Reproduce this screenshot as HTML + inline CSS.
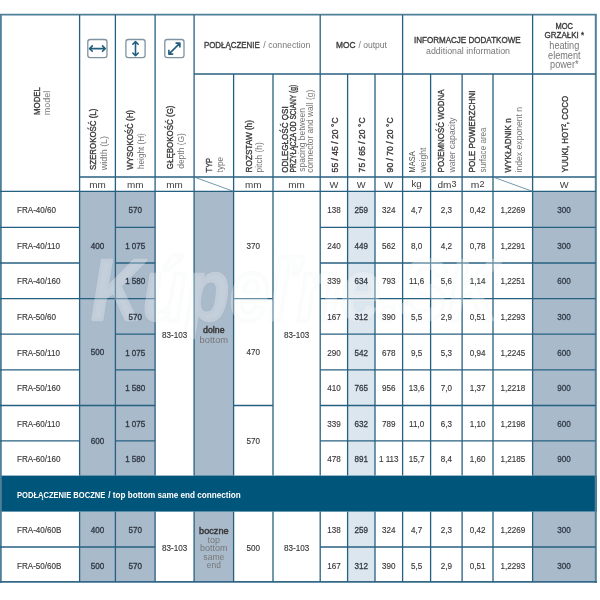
<!DOCTYPE html>
<html lang="pl">
<head>
<meta charset="utf-8">
<title>FRA - dane techniczne</title>
<style>
html,body{margin:0;padding:0;background:#fff;}
body{width:600px;height:600px;overflow:hidden;}
svg{display:block;font-family:"Liberation Sans",sans-serif;}
</style>
</head>
<body>
<svg width="600" height="600" viewBox="0 0 600 600">
<defs><filter id="soft" x="-5%" y="-5%" width="110%" height="110%"><feGaussianBlur stdDeviation="0.45"/></filter></defs>
<g filter="url(#soft)">
<rect x="-20" y="-20" width="640" height="640" fill="#ffffff"/>
<rect x="79.6" y="191.4" width="75.5" height="284.6" fill="#a9bacb"/>
<rect x="194.1" y="191.4" width="39.5" height="284.6" fill="#a9bacb"/>
<rect x="347.6" y="191.4" width="27.4" height="284.6" fill="#dce6ee"/>
<rect x="532.6" y="191.4" width="63" height="284.6" fill="#a9bacb"/>
<rect x="79.6" y="511.6" width="75.5" height="70.4" fill="#a9bacb"/>
<rect x="194.1" y="511.6" width="39.5" height="70.4" fill="#a9bacb"/>
<rect x="347.6" y="511.6" width="27.4" height="70.4" fill="#dce6ee"/>
<rect x="532.6" y="511.6" width="63" height="70.4" fill="#a9bacb"/>
<rect x="0" y="475.6" width="596.8" height="36" fill="#05567a"/>
<line x1="0" y1="14.7" x2="596.8" y2="14.7" stroke="#4f7f99" stroke-width="1.8"/>
<line x1="0.9" y1="14.7" x2="0.9" y2="583" stroke="#4f7f99" stroke-width="1.8"/>
<line x1="595.8" y1="14.7" x2="595.8" y2="583" stroke="#4f7f99" stroke-width="2"/>
<line x1="0" y1="581.9" x2="596.8" y2="581.9" stroke="#34698a" stroke-width="1.6"/>
<line x1="79.6" y1="14.7" x2="79.6" y2="475.6" stroke="#276180" stroke-width="1.3"/>
<line x1="115.4" y1="14.7" x2="115.4" y2="475.6" stroke="#276180" stroke-width="1.3"/>
<line x1="155.1" y1="14.7" x2="155.1" y2="475.6" stroke="#276180" stroke-width="1.3"/>
<line x1="194.1" y1="14.7" x2="194.1" y2="475.6" stroke="#276180" stroke-width="1.3"/>
<line x1="320.2" y1="14.7" x2="320.2" y2="475.6" stroke="#276180" stroke-width="1.3"/>
<line x1="402.6" y1="14.7" x2="402.6" y2="475.6" stroke="#276180" stroke-width="1.3"/>
<line x1="532.6" y1="14.7" x2="532.6" y2="475.6" stroke="#276180" stroke-width="1.3"/>
<line x1="233.6" y1="74" x2="233.6" y2="475.6" stroke="#276180" stroke-width="1.3"/>
<line x1="273" y1="74" x2="273" y2="475.6" stroke="#276180" stroke-width="1.3"/>
<line x1="347.6" y1="74" x2="347.6" y2="475.6" stroke="#276180" stroke-width="1.3"/>
<line x1="375" y1="74" x2="375" y2="475.6" stroke="#276180" stroke-width="1.3"/>
<line x1="430.6" y1="74" x2="430.6" y2="475.6" stroke="#276180" stroke-width="1.3"/>
<line x1="462.1" y1="74" x2="462.1" y2="475.6" stroke="#276180" stroke-width="1.3"/>
<line x1="493" y1="74" x2="493" y2="475.6" stroke="#276180" stroke-width="1.3"/>
<line x1="194.1" y1="74" x2="595.6" y2="74" stroke="#276180" stroke-width="1.3"/>
<line x1="79.6" y1="177" x2="595.6" y2="177" stroke="#276180" stroke-width="1.3"/>
<line x1="0" y1="191.4" x2="596" y2="191.4" stroke="#276180" stroke-width="1.3"/>
<line x1="194.1" y1="177" x2="233.6" y2="191.4" stroke="#4d7f99" stroke-width="0.8"/>
<line x1="493" y1="177" x2="532.6" y2="191.4" stroke="#4d7f99" stroke-width="0.8"/>
<line x1="0" y1="227.3" x2="79.6" y2="227.3" stroke="#276180" stroke-width="1.3"/>
<line x1="115.4" y1="227.3" x2="155.1" y2="227.3" stroke="#276180" stroke-width="1.3"/>
<line x1="320.2" y1="227.3" x2="595.6" y2="227.3" stroke="#276180" stroke-width="1.3"/>
<line x1="0" y1="263" x2="79.6" y2="263" stroke="#276180" stroke-width="1.3"/>
<line x1="115.4" y1="263" x2="155.1" y2="263" stroke="#276180" stroke-width="1.3"/>
<line x1="320.2" y1="263" x2="595.6" y2="263" stroke="#276180" stroke-width="1.3"/>
<line x1="0" y1="298.6" x2="79.6" y2="298.6" stroke="#276180" stroke-width="1.3"/>
<line x1="115.4" y1="298.6" x2="155.1" y2="298.6" stroke="#276180" stroke-width="1.3"/>
<line x1="320.2" y1="298.6" x2="595.6" y2="298.6" stroke="#276180" stroke-width="1.3"/>
<line x1="79.6" y1="298.6" x2="115.4" y2="298.6" stroke="#276180" stroke-width="1.3"/>
<line x1="233.6" y1="298.6" x2="273" y2="298.6" stroke="#276180" stroke-width="1.3"/>
<line x1="0" y1="334.2" x2="79.6" y2="334.2" stroke="#276180" stroke-width="1.3"/>
<line x1="115.4" y1="334.2" x2="155.1" y2="334.2" stroke="#276180" stroke-width="1.3"/>
<line x1="320.2" y1="334.2" x2="595.6" y2="334.2" stroke="#276180" stroke-width="1.3"/>
<line x1="0" y1="369.9" x2="79.6" y2="369.9" stroke="#276180" stroke-width="1.3"/>
<line x1="115.4" y1="369.9" x2="155.1" y2="369.9" stroke="#276180" stroke-width="1.3"/>
<line x1="320.2" y1="369.9" x2="595.6" y2="369.9" stroke="#276180" stroke-width="1.3"/>
<line x1="0" y1="405.5" x2="79.6" y2="405.5" stroke="#276180" stroke-width="1.3"/>
<line x1="115.4" y1="405.5" x2="155.1" y2="405.5" stroke="#276180" stroke-width="1.3"/>
<line x1="320.2" y1="405.5" x2="595.6" y2="405.5" stroke="#276180" stroke-width="1.3"/>
<line x1="79.6" y1="405.5" x2="115.4" y2="405.5" stroke="#276180" stroke-width="1.3"/>
<line x1="233.6" y1="405.5" x2="273" y2="405.5" stroke="#276180" stroke-width="1.3"/>
<line x1="0" y1="440.8" x2="79.6" y2="440.8" stroke="#276180" stroke-width="1.3"/>
<line x1="115.4" y1="440.8" x2="155.1" y2="440.8" stroke="#276180" stroke-width="1.3"/>
<line x1="320.2" y1="440.8" x2="595.6" y2="440.8" stroke="#276180" stroke-width="1.3"/>
<line x1="79.6" y1="511.6" x2="79.6" y2="582" stroke="#276180" stroke-width="1.3"/>
<line x1="115.4" y1="511.6" x2="115.4" y2="582" stroke="#276180" stroke-width="1.3"/>
<line x1="155.1" y1="511.6" x2="155.1" y2="582" stroke="#276180" stroke-width="1.3"/>
<line x1="194.1" y1="511.6" x2="194.1" y2="582" stroke="#276180" stroke-width="1.3"/>
<line x1="233.6" y1="511.6" x2="233.6" y2="582" stroke="#276180" stroke-width="1.3"/>
<line x1="273" y1="511.6" x2="273" y2="582" stroke="#276180" stroke-width="1.3"/>
<line x1="320.2" y1="511.6" x2="320.2" y2="582" stroke="#276180" stroke-width="1.3"/>
<line x1="347.6" y1="511.6" x2="347.6" y2="582" stroke="#276180" stroke-width="1.3"/>
<line x1="375" y1="511.6" x2="375" y2="582" stroke="#276180" stroke-width="1.3"/>
<line x1="402.6" y1="511.6" x2="402.6" y2="582" stroke="#276180" stroke-width="1.3"/>
<line x1="430.6" y1="511.6" x2="430.6" y2="582" stroke="#276180" stroke-width="1.3"/>
<line x1="462.1" y1="511.6" x2="462.1" y2="582" stroke="#276180" stroke-width="1.3"/>
<line x1="493" y1="511.6" x2="493" y2="582" stroke="#276180" stroke-width="1.3"/>
<line x1="532.6" y1="511.6" x2="532.6" y2="582" stroke="#276180" stroke-width="1.3"/>
<line x1="0" y1="547" x2="155.1" y2="547" stroke="#276180" stroke-width="1.3"/>
<line x1="320.2" y1="547" x2="595.6" y2="547" stroke="#276180" stroke-width="1.3"/>
<text x="91" y="320" font-size="87" font-style="italic" font-weight="bold" textLength="408" lengthAdjust="spacingAndGlyphs" fill="none" stroke="#556677" stroke-opacity="0.028" stroke-width="4.5" stroke-linejoin="round">Kúpeľne.SK</text>
<g opacity="0.3"><text x="91" y="320" font-size="87" font-style="italic" font-weight="bold" textLength="408" lengthAdjust="spacingAndGlyphs" fill="#ffffff" stroke="#ffffff" stroke-width="2.4" stroke-linejoin="round">Kúpeľne.SK</text></g>
<text transform="translate(39.612 101) rotate(-90)" text-anchor="middle" font-size="9.2" fill="#3a3a3a" stroke="#3a3a3a" stroke-width="0.36" textLength="28" lengthAdjust="spacingAndGlyphs">MODEL</text>
<text transform="translate(50.312 103) rotate(-90)" text-anchor="middle" font-size="9.2" fill="#777777" textLength="24.5" lengthAdjust="spacingAndGlyphs">model</text>
<rect x="87.8" y="39.5" width="19.2" height="18.2" rx="2.4" fill="#fff" stroke="#7f93a1" stroke-width="1.3"/>
<path d="M89.6 48.6H105.2M92.3 45.9L89.6 48.6L92.3 51.3M102.5 45.9L105.2 48.6L102.5 51.3" fill="none" stroke="#245f7c" stroke-width="1.6" stroke-linejoin="round" stroke-linecap="round"/>
<rect x="125.9" y="39.5" width="19.2" height="18.2" rx="2.4" fill="#fff" stroke="#7f93a1" stroke-width="1.3"/>
<path d="M135.5 41.5V55.7M132.8 44.2L135.5 41.5L138.2 44.2M132.8 53L135.5 55.7L138.2 53" fill="none" stroke="#245f7c" stroke-width="1.6" stroke-linejoin="round" stroke-linecap="round"/>
<rect x="164.8" y="39.5" width="19.2" height="18.2" rx="2.4" fill="#fff" stroke="#7f93a1" stroke-width="1.3"/>
<path d="M168.9 54.1L179.9 43.1M176.1 43.1H179.9V46.9M168.9 50.3V54.1H172.7" fill="none" stroke="#245f7c" stroke-width="1.6" stroke-linejoin="round" stroke-linecap="round"/>
<text transform="translate(95.7 170.1) rotate(-90)" font-size="9.2" fill="#3a3a3a" stroke="#3a3a3a" stroke-width="0.36" textLength="61.5" lengthAdjust="spacingAndGlyphs">SZEROKOŚĆ (L)</text>
<text transform="translate(107 170.3) rotate(-90)" font-size="9.2" fill="#747474" textLength="34.4" lengthAdjust="spacingAndGlyphs">width (L)</text>
<text transform="translate(133.3 169.8) rotate(-90)" font-size="9.2" fill="#3a3a3a" stroke="#3a3a3a" stroke-width="0.36" textLength="59.8" lengthAdjust="spacingAndGlyphs">WYSOKOŚĆ (H)</text>
<text transform="translate(143.7 168.9) rotate(-90)" font-size="9.2" fill="#747474" textLength="35.6" lengthAdjust="spacingAndGlyphs">height (H)</text>
<text transform="translate(173 169.2) rotate(-90)" font-size="9.2" fill="#3a3a3a" stroke="#3a3a3a" stroke-width="0.36" textLength="63.7" lengthAdjust="spacingAndGlyphs">GŁĘBOKOŚĆ (G)</text>
<text transform="translate(183.8 168.8) rotate(-90)" font-size="9.2" fill="#747474" textLength="35.7" lengthAdjust="spacingAndGlyphs">depth (G)</text>
<text x="97.5" y="188.056" text-anchor="middle" font-size="9.6" fill="#3a3a3a" textLength="16.5" lengthAdjust="spacingAndGlyphs">mm</text>
<text x="135.25" y="188.056" text-anchor="middle" font-size="9.6" fill="#3a3a3a" textLength="16.5" lengthAdjust="spacingAndGlyphs">mm</text>
<text x="174.6" y="188.056" text-anchor="middle" font-size="9.6" fill="#3a3a3a" textLength="16.5" lengthAdjust="spacingAndGlyphs">mm</text>
<text x="253.3" y="188.056" text-anchor="middle" font-size="9.6" fill="#3a3a3a" textLength="16.5" lengthAdjust="spacingAndGlyphs">mm</text>
<text x="296.6" y="188.056" text-anchor="middle" font-size="9.6" fill="#3a3a3a" textLength="16.5" lengthAdjust="spacingAndGlyphs">mm</text>
<text x="333.9" y="187.684" text-anchor="middle" font-size="9.4" fill="#3a3a3a">W</text>
<text x="361.3" y="187.684" text-anchor="middle" font-size="9.4" fill="#3a3a3a">W</text>
<text x="388.8" y="187.684" text-anchor="middle" font-size="9.4" fill="#3a3a3a">W</text>
<text x="564.1" y="187.684" text-anchor="middle" font-size="9.4" fill="#3a3a3a">W</text>
<text x="416.6" y="187.456" text-anchor="middle" font-size="9.6" fill="#3a3a3a" textLength="10.2" lengthAdjust="spacingAndGlyphs">kg</text>
<text x="437.5" y="187.7" font-size="9.6" fill="#3a3a3a" textLength="19" lengthAdjust="spacingAndGlyphs">dm<tspan font-size="8.6" dy="-1.2">3</tspan></text>
<text x="470.8" y="187.7" font-size="9.6" fill="#3a3a3a" textLength="13.7" lengthAdjust="spacingAndGlyphs">m<tspan font-size="8.6" dy="-1.2">2</tspan></text>
<text x="203.9" y="48.2" font-size="9.3" fill="#3a3a3a" stroke="#3a3a3a" stroke-width="0.36" textLength="55.8" lengthAdjust="spacingAndGlyphs">PODŁĄCZENIE</text>
<text x="263.3" y="48.2" font-size="9.3" fill="#777777" textLength="47" lengthAdjust="spacingAndGlyphs">/ connection</text>
<text x="336" y="48.2" font-size="9.3" fill="#3a3a3a" stroke="#3a3a3a" stroke-width="0.36" textLength="19.5" lengthAdjust="spacingAndGlyphs">MOC</text>
<text x="358.5" y="48.2" font-size="9.3" fill="#777777" textLength="28.5" lengthAdjust="spacingAndGlyphs">/ output</text>
<text x="467.3" y="42.648" text-anchor="middle" font-size="9.3" fill="#3a3a3a" stroke="#3a3a3a" stroke-width="0.36" textLength="106.7" lengthAdjust="spacingAndGlyphs">INFORMACJE DODATKOWE</text>
<text x="468" y="54.048" text-anchor="middle" font-size="9.3" fill="#777777" textLength="84" lengthAdjust="spacingAndGlyphs">additional information</text>
<text x="564.3" y="29.248" text-anchor="middle" font-size="9.3" fill="#3a3a3a" stroke="#3a3a3a" stroke-width="0.36" textLength="17.5" lengthAdjust="spacingAndGlyphs">MOC</text>
<text x="564.3" y="38.448" text-anchor="middle" font-size="9.3" fill="#3a3a3a" stroke="#3a3a3a" stroke-width="0.36" textLength="39.5" lengthAdjust="spacingAndGlyphs">GRZAŁKI *</text>
<text x="564.3" y="48.6" text-anchor="middle" font-size="10" fill="#777777" textLength="30" lengthAdjust="spacingAndGlyphs">heating</text>
<text x="564.3" y="58.6" text-anchor="middle" font-size="10" fill="#777777" textLength="32.5" lengthAdjust="spacingAndGlyphs">element</text>
<text x="564.3" y="68.4" text-anchor="middle" font-size="10" fill="#777777" textLength="28.5" lengthAdjust="spacingAndGlyphs">power*</text>
<text transform="translate(212 172.4) rotate(-90)" font-size="9.2" fill="#3a3a3a" stroke="#3a3a3a" stroke-width="0.36" textLength="14.5" lengthAdjust="spacingAndGlyphs">TYP</text>
<text transform="translate(222.6 172.4) rotate(-90)" font-size="9.2" fill="#747474" textLength="15.5" lengthAdjust="spacingAndGlyphs">type</text>
<text transform="translate(251.7 172.4) rotate(-90)" font-size="9.2" fill="#3a3a3a" stroke="#3a3a3a" stroke-width="0.36" textLength="52.3" lengthAdjust="spacingAndGlyphs">ROZSTAW (h)</text>
<text transform="translate(262.3 172.4) rotate(-90)" font-size="9.2" fill="#747474" textLength="30.2" lengthAdjust="spacingAndGlyphs">pitch (h)</text>
<text transform="translate(287.7 172.8) rotate(-90)" font-size="9.2" fill="#3a3a3a" stroke="#3a3a3a" stroke-width="0.36" textLength="66.5" lengthAdjust="spacingAndGlyphs">ODLEGŁOŚĆ OSI</text>
<text transform="translate(296 172.4) rotate(-90)" font-size="9.2" fill="#3a3a3a" stroke="#3a3a3a" stroke-width="0.36" textLength="87.6" lengthAdjust="spacingAndGlyphs">PRZYŁĄCZA OD ŚCIANY (g)</text>
<text transform="translate(305.3 171.8) rotate(-90)" font-size="9.2" fill="#747474" textLength="63.7" lengthAdjust="spacingAndGlyphs">spacing between</text>
<text transform="translate(313.3 172.8) rotate(-90)" font-size="9.2" fill="#747474" textLength="83" lengthAdjust="spacingAndGlyphs">connector and wall (g)</text>
<text transform="translate(337.6 172.4) rotate(-90)" font-size="9.2" fill="#3a3a3a" stroke="#3a3a3a" stroke-width="0.36" textLength="55" lengthAdjust="spacingAndGlyphs">55 / 45 / 20 °C</text>
<text transform="translate(364.8 172.4) rotate(-90)" font-size="9.2" fill="#3a3a3a" stroke="#3a3a3a" stroke-width="0.36" textLength="55" lengthAdjust="spacingAndGlyphs">75 / 65 / 20 °C</text>
<text transform="translate(392.5 172.4) rotate(-90)" font-size="9.2" fill="#3a3a3a" stroke="#3a3a3a" stroke-width="0.36" textLength="55" lengthAdjust="spacingAndGlyphs">90 / 70 / 20 °C</text>
<text transform="translate(414.7 172.4) rotate(-90)" font-size="9.2" fill="#444444" textLength="21" lengthAdjust="spacingAndGlyphs">MASA</text>
<text transform="translate(426 172.4) rotate(-90)" font-size="9.2" fill="#747474" textLength="24.7" lengthAdjust="spacingAndGlyphs">weight</text>
<text transform="translate(443.7 172.4) rotate(-90)" font-size="9.2" fill="#3a3a3a" stroke="#3a3a3a" stroke-width="0.36" textLength="83" lengthAdjust="spacingAndGlyphs">POJEMNOŚĆ WODNA</text>
<text transform="translate(455.3 172.4) rotate(-90)" font-size="9.2" fill="#747474" textLength="55" lengthAdjust="spacingAndGlyphs">water capacity</text>
<text transform="translate(475.3 172.4) rotate(-90)" font-size="9.2" fill="#3a3a3a" stroke="#3a3a3a" stroke-width="0.36" textLength="81.8" lengthAdjust="spacingAndGlyphs">POLE POWIERZCHNI</text>
<text transform="translate(486.3 172.4) rotate(-90)" font-size="9.2" fill="#747474" textLength="45" lengthAdjust="spacingAndGlyphs">surface area</text>
<text transform="translate(511 172.4) rotate(-90)" font-size="9.2" fill="#3a3a3a" stroke="#3a3a3a" stroke-width="0.36" textLength="54" lengthAdjust="spacingAndGlyphs">WYKŁADNIK n</text>
<text transform="translate(522.3 172.4) rotate(-90)" font-size="9.2" fill="#747474" textLength="65.5" lengthAdjust="spacingAndGlyphs">index exponent n</text>
<text transform="translate(568.3 172.4) rotate(-90)" font-size="9.2" fill="#3a3a3a" stroke="#3a3a3a" stroke-width="0.36" textLength="76.5" lengthAdjust="spacingAndGlyphs">YUUKI, HOT², COCO</text>
<text x="17" y="212.882" text-anchor="start" font-size="8.7" fill="#3a3a3a" stroke="#3a3a3a" stroke-width="0.15" textLength="39.1" lengthAdjust="spacingAndGlyphs">FRA-40/60</text>
<text x="135.25" y="212.882" text-anchor="middle" font-size="8.7" fill="#323a45" stroke="#323a45" stroke-width="0.35" textLength="13.5" lengthAdjust="spacingAndGlyphs">570</text>
<text x="333.9" y="212.882" text-anchor="middle" font-size="8.7" fill="#3a3a3a" stroke="#3a3a3a" stroke-width="0.15" textLength="13.5" lengthAdjust="spacingAndGlyphs">138</text>
<text x="361.3" y="212.882" text-anchor="middle" font-size="8.7" fill="#323a45" stroke="#323a45" stroke-width="0.3" textLength="13.5" lengthAdjust="spacingAndGlyphs">259</text>
<text x="388.8" y="212.882" text-anchor="middle" font-size="8.7" fill="#3a3a3a" stroke="#3a3a3a" stroke-width="0.15" textLength="13.5" lengthAdjust="spacingAndGlyphs">324</text>
<text x="416.6" y="212.882" text-anchor="middle" font-size="8.7" fill="#3a3a3a" stroke="#3a3a3a" stroke-width="0.15" textLength="11.2" lengthAdjust="spacingAndGlyphs">4,7</text>
<text x="446.35" y="212.882" text-anchor="middle" font-size="8.7" fill="#3a3a3a" stroke="#3a3a3a" stroke-width="0.15" textLength="11.2" lengthAdjust="spacingAndGlyphs">2,3</text>
<text x="477.55" y="212.882" text-anchor="middle" font-size="8.7" fill="#3a3a3a" stroke="#3a3a3a" stroke-width="0.15" textLength="15.7" lengthAdjust="spacingAndGlyphs">0,42</text>
<text x="512.8" y="212.882" text-anchor="middle" font-size="8.7" fill="#3a3a3a" stroke="#3a3a3a" stroke-width="0.15" textLength="24.7" lengthAdjust="spacingAndGlyphs">1,2269</text>
<text x="564.1" y="212.882" text-anchor="middle" font-size="8.7" fill="#323a45" stroke="#323a45" stroke-width="0.3" textLength="13.5" lengthAdjust="spacingAndGlyphs">300</text>
<text x="17" y="248.682" text-anchor="start" font-size="8.7" fill="#3a3a3a" stroke="#3a3a3a" stroke-width="0.15" textLength="43" lengthAdjust="spacingAndGlyphs">FRA-40/110</text>
<text x="135.25" y="248.682" text-anchor="middle" font-size="8.7" fill="#323a45" stroke="#323a45" stroke-width="0.35" textLength="20.2" lengthAdjust="spacingAndGlyphs">1 075</text>
<text x="333.9" y="248.682" text-anchor="middle" font-size="8.7" fill="#3a3a3a" stroke="#3a3a3a" stroke-width="0.15" textLength="13.5" lengthAdjust="spacingAndGlyphs">240</text>
<text x="361.3" y="248.682" text-anchor="middle" font-size="8.7" fill="#323a45" stroke="#323a45" stroke-width="0.3" textLength="13.5" lengthAdjust="spacingAndGlyphs">449</text>
<text x="388.8" y="248.682" text-anchor="middle" font-size="8.7" fill="#3a3a3a" stroke="#3a3a3a" stroke-width="0.15" textLength="13.5" lengthAdjust="spacingAndGlyphs">562</text>
<text x="416.6" y="248.682" text-anchor="middle" font-size="8.7" fill="#3a3a3a" stroke="#3a3a3a" stroke-width="0.15" textLength="11.2" lengthAdjust="spacingAndGlyphs">8,0</text>
<text x="446.35" y="248.682" text-anchor="middle" font-size="8.7" fill="#3a3a3a" stroke="#3a3a3a" stroke-width="0.15" textLength="11.2" lengthAdjust="spacingAndGlyphs">4,2</text>
<text x="477.55" y="248.682" text-anchor="middle" font-size="8.7" fill="#3a3a3a" stroke="#3a3a3a" stroke-width="0.15" textLength="15.7" lengthAdjust="spacingAndGlyphs">0,78</text>
<text x="512.8" y="248.682" text-anchor="middle" font-size="8.7" fill="#3a3a3a" stroke="#3a3a3a" stroke-width="0.15" textLength="24.7" lengthAdjust="spacingAndGlyphs">1,2291</text>
<text x="564.1" y="248.682" text-anchor="middle" font-size="8.7" fill="#323a45" stroke="#323a45" stroke-width="0.3" textLength="13.5" lengthAdjust="spacingAndGlyphs">300</text>
<text x="17" y="284.332" text-anchor="start" font-size="8.7" fill="#3a3a3a" stroke="#3a3a3a" stroke-width="0.15" textLength="43.6" lengthAdjust="spacingAndGlyphs">FRA-40/160</text>
<text x="135.25" y="284.332" text-anchor="middle" font-size="8.7" fill="#323a45" stroke="#323a45" stroke-width="0.35" textLength="20.2" lengthAdjust="spacingAndGlyphs">1 580</text>
<text x="333.9" y="284.332" text-anchor="middle" font-size="8.7" fill="#3a3a3a" stroke="#3a3a3a" stroke-width="0.15" textLength="13.5" lengthAdjust="spacingAndGlyphs">339</text>
<text x="361.3" y="284.332" text-anchor="middle" font-size="8.7" fill="#323a45" stroke="#323a45" stroke-width="0.3" textLength="13.5" lengthAdjust="spacingAndGlyphs">634</text>
<text x="388.8" y="284.332" text-anchor="middle" font-size="8.7" fill="#3a3a3a" stroke="#3a3a3a" stroke-width="0.15" textLength="13.5" lengthAdjust="spacingAndGlyphs">793</text>
<text x="416.6" y="284.332" text-anchor="middle" font-size="8.7" fill="#3a3a3a" stroke="#3a3a3a" stroke-width="0.15" textLength="15.1" lengthAdjust="spacingAndGlyphs">11,6</text>
<text x="446.35" y="284.332" text-anchor="middle" font-size="8.7" fill="#3a3a3a" stroke="#3a3a3a" stroke-width="0.15" textLength="11.2" lengthAdjust="spacingAndGlyphs">5,6</text>
<text x="477.55" y="284.332" text-anchor="middle" font-size="8.7" fill="#3a3a3a" stroke="#3a3a3a" stroke-width="0.15" textLength="15.7" lengthAdjust="spacingAndGlyphs">1,14</text>
<text x="512.8" y="284.332" text-anchor="middle" font-size="8.7" fill="#3a3a3a" stroke="#3a3a3a" stroke-width="0.15" textLength="24.7" lengthAdjust="spacingAndGlyphs">1,2251</text>
<text x="564.1" y="284.332" text-anchor="middle" font-size="8.7" fill="#323a45" stroke="#323a45" stroke-width="0.3" textLength="13.5" lengthAdjust="spacingAndGlyphs">600</text>
<text x="17" y="319.932" text-anchor="start" font-size="8.7" fill="#3a3a3a" stroke="#3a3a3a" stroke-width="0.15" textLength="39.1" lengthAdjust="spacingAndGlyphs">FRA-50/60</text>
<text x="135.25" y="319.932" text-anchor="middle" font-size="8.7" fill="#323a45" stroke="#323a45" stroke-width="0.35" textLength="13.5" lengthAdjust="spacingAndGlyphs">570</text>
<text x="333.9" y="319.932" text-anchor="middle" font-size="8.7" fill="#3a3a3a" stroke="#3a3a3a" stroke-width="0.15" textLength="13.5" lengthAdjust="spacingAndGlyphs">167</text>
<text x="361.3" y="319.932" text-anchor="middle" font-size="8.7" fill="#323a45" stroke="#323a45" stroke-width="0.3" textLength="13.5" lengthAdjust="spacingAndGlyphs">312</text>
<text x="388.8" y="319.932" text-anchor="middle" font-size="8.7" fill="#3a3a3a" stroke="#3a3a3a" stroke-width="0.15" textLength="13.5" lengthAdjust="spacingAndGlyphs">390</text>
<text x="416.6" y="319.932" text-anchor="middle" font-size="8.7" fill="#3a3a3a" stroke="#3a3a3a" stroke-width="0.15" textLength="11.2" lengthAdjust="spacingAndGlyphs">5,5</text>
<text x="446.35" y="319.932" text-anchor="middle" font-size="8.7" fill="#3a3a3a" stroke="#3a3a3a" stroke-width="0.15" textLength="11.2" lengthAdjust="spacingAndGlyphs">2,9</text>
<text x="477.55" y="319.932" text-anchor="middle" font-size="8.7" fill="#3a3a3a" stroke="#3a3a3a" stroke-width="0.15" textLength="15.7" lengthAdjust="spacingAndGlyphs">0,51</text>
<text x="512.8" y="319.932" text-anchor="middle" font-size="8.7" fill="#3a3a3a" stroke="#3a3a3a" stroke-width="0.15" textLength="24.7" lengthAdjust="spacingAndGlyphs">1,2293</text>
<text x="564.1" y="319.932" text-anchor="middle" font-size="8.7" fill="#323a45" stroke="#323a45" stroke-width="0.3" textLength="13.5" lengthAdjust="spacingAndGlyphs">300</text>
<text x="17" y="355.582" text-anchor="start" font-size="8.7" fill="#3a3a3a" stroke="#3a3a3a" stroke-width="0.15" textLength="43" lengthAdjust="spacingAndGlyphs">FRA-50/110</text>
<text x="135.25" y="355.582" text-anchor="middle" font-size="8.7" fill="#323a45" stroke="#323a45" stroke-width="0.35" textLength="20.2" lengthAdjust="spacingAndGlyphs">1 075</text>
<text x="333.9" y="355.582" text-anchor="middle" font-size="8.7" fill="#3a3a3a" stroke="#3a3a3a" stroke-width="0.15" textLength="13.5" lengthAdjust="spacingAndGlyphs">290</text>
<text x="361.3" y="355.582" text-anchor="middle" font-size="8.7" fill="#323a45" stroke="#323a45" stroke-width="0.3" textLength="13.5" lengthAdjust="spacingAndGlyphs">542</text>
<text x="388.8" y="355.582" text-anchor="middle" font-size="8.7" fill="#3a3a3a" stroke="#3a3a3a" stroke-width="0.15" textLength="13.5" lengthAdjust="spacingAndGlyphs">678</text>
<text x="416.6" y="355.582" text-anchor="middle" font-size="8.7" fill="#3a3a3a" stroke="#3a3a3a" stroke-width="0.15" textLength="11.2" lengthAdjust="spacingAndGlyphs">9,5</text>
<text x="446.35" y="355.582" text-anchor="middle" font-size="8.7" fill="#3a3a3a" stroke="#3a3a3a" stroke-width="0.15" textLength="11.2" lengthAdjust="spacingAndGlyphs">5,3</text>
<text x="477.55" y="355.582" text-anchor="middle" font-size="8.7" fill="#3a3a3a" stroke="#3a3a3a" stroke-width="0.15" textLength="15.7" lengthAdjust="spacingAndGlyphs">0,94</text>
<text x="512.8" y="355.582" text-anchor="middle" font-size="8.7" fill="#3a3a3a" stroke="#3a3a3a" stroke-width="0.15" textLength="24.7" lengthAdjust="spacingAndGlyphs">1,2245</text>
<text x="564.1" y="355.582" text-anchor="middle" font-size="8.7" fill="#323a45" stroke="#323a45" stroke-width="0.3" textLength="13.5" lengthAdjust="spacingAndGlyphs">600</text>
<text x="17" y="391.232" text-anchor="start" font-size="8.7" fill="#3a3a3a" stroke="#3a3a3a" stroke-width="0.15" textLength="43.6" lengthAdjust="spacingAndGlyphs">FRA-50/160</text>
<text x="135.25" y="391.232" text-anchor="middle" font-size="8.7" fill="#323a45" stroke="#323a45" stroke-width="0.35" textLength="20.2" lengthAdjust="spacingAndGlyphs">1 580</text>
<text x="333.9" y="391.232" text-anchor="middle" font-size="8.7" fill="#3a3a3a" stroke="#3a3a3a" stroke-width="0.15" textLength="13.5" lengthAdjust="spacingAndGlyphs">410</text>
<text x="361.3" y="391.232" text-anchor="middle" font-size="8.7" fill="#323a45" stroke="#323a45" stroke-width="0.3" textLength="13.5" lengthAdjust="spacingAndGlyphs">765</text>
<text x="388.8" y="391.232" text-anchor="middle" font-size="8.7" fill="#3a3a3a" stroke="#3a3a3a" stroke-width="0.15" textLength="13.5" lengthAdjust="spacingAndGlyphs">956</text>
<text x="416.6" y="391.232" text-anchor="middle" font-size="8.7" fill="#3a3a3a" stroke="#3a3a3a" stroke-width="0.15" textLength="15.7" lengthAdjust="spacingAndGlyphs">13,6</text>
<text x="446.35" y="391.232" text-anchor="middle" font-size="8.7" fill="#3a3a3a" stroke="#3a3a3a" stroke-width="0.15" textLength="11.2" lengthAdjust="spacingAndGlyphs">7,0</text>
<text x="477.55" y="391.232" text-anchor="middle" font-size="8.7" fill="#3a3a3a" stroke="#3a3a3a" stroke-width="0.15" textLength="15.7" lengthAdjust="spacingAndGlyphs">1,37</text>
<text x="512.8" y="391.232" text-anchor="middle" font-size="8.7" fill="#3a3a3a" stroke="#3a3a3a" stroke-width="0.15" textLength="24.7" lengthAdjust="spacingAndGlyphs">1,2218</text>
<text x="564.1" y="391.232" text-anchor="middle" font-size="8.7" fill="#323a45" stroke="#323a45" stroke-width="0.3" textLength="13.5" lengthAdjust="spacingAndGlyphs">900</text>
<text x="17" y="426.682" text-anchor="start" font-size="8.7" fill="#3a3a3a" stroke="#3a3a3a" stroke-width="0.15" textLength="43" lengthAdjust="spacingAndGlyphs">FRA-60/110</text>
<text x="135.25" y="426.682" text-anchor="middle" font-size="8.7" fill="#323a45" stroke="#323a45" stroke-width="0.35" textLength="20.2" lengthAdjust="spacingAndGlyphs">1 075</text>
<text x="333.9" y="426.682" text-anchor="middle" font-size="8.7" fill="#3a3a3a" stroke="#3a3a3a" stroke-width="0.15" textLength="13.5" lengthAdjust="spacingAndGlyphs">339</text>
<text x="361.3" y="426.682" text-anchor="middle" font-size="8.7" fill="#323a45" stroke="#323a45" stroke-width="0.3" textLength="13.5" lengthAdjust="spacingAndGlyphs">632</text>
<text x="388.8" y="426.682" text-anchor="middle" font-size="8.7" fill="#3a3a3a" stroke="#3a3a3a" stroke-width="0.15" textLength="13.5" lengthAdjust="spacingAndGlyphs">789</text>
<text x="416.6" y="426.682" text-anchor="middle" font-size="8.7" fill="#3a3a3a" stroke="#3a3a3a" stroke-width="0.15" textLength="15.1" lengthAdjust="spacingAndGlyphs">11,0</text>
<text x="446.35" y="426.682" text-anchor="middle" font-size="8.7" fill="#3a3a3a" stroke="#3a3a3a" stroke-width="0.15" textLength="11.2" lengthAdjust="spacingAndGlyphs">6,3</text>
<text x="477.55" y="426.682" text-anchor="middle" font-size="8.7" fill="#3a3a3a" stroke="#3a3a3a" stroke-width="0.15" textLength="15.7" lengthAdjust="spacingAndGlyphs">1,10</text>
<text x="512.8" y="426.682" text-anchor="middle" font-size="8.7" fill="#3a3a3a" stroke="#3a3a3a" stroke-width="0.15" textLength="24.7" lengthAdjust="spacingAndGlyphs">1,2198</text>
<text x="564.1" y="426.682" text-anchor="middle" font-size="8.7" fill="#323a45" stroke="#323a45" stroke-width="0.3" textLength="13.5" lengthAdjust="spacingAndGlyphs">600</text>
<text x="17" y="461.932" text-anchor="start" font-size="8.7" fill="#3a3a3a" stroke="#3a3a3a" stroke-width="0.15" textLength="43.6" lengthAdjust="spacingAndGlyphs">FRA-60/160</text>
<text x="135.25" y="461.932" text-anchor="middle" font-size="8.7" fill="#323a45" stroke="#323a45" stroke-width="0.35" textLength="20.2" lengthAdjust="spacingAndGlyphs">1 580</text>
<text x="333.9" y="461.932" text-anchor="middle" font-size="8.7" fill="#3a3a3a" stroke="#3a3a3a" stroke-width="0.15" textLength="13.5" lengthAdjust="spacingAndGlyphs">478</text>
<text x="361.3" y="461.932" text-anchor="middle" font-size="8.7" fill="#323a45" stroke="#323a45" stroke-width="0.3" textLength="13.5" lengthAdjust="spacingAndGlyphs">891</text>
<text x="388.8" y="461.932" text-anchor="middle" font-size="8.7" fill="#3a3a3a" stroke="#3a3a3a" stroke-width="0.15" textLength="19.6" lengthAdjust="spacingAndGlyphs">1 113</text>
<text x="416.6" y="461.932" text-anchor="middle" font-size="8.7" fill="#3a3a3a" stroke="#3a3a3a" stroke-width="0.15" textLength="15.7" lengthAdjust="spacingAndGlyphs">15,7</text>
<text x="446.35" y="461.932" text-anchor="middle" font-size="8.7" fill="#3a3a3a" stroke="#3a3a3a" stroke-width="0.15" textLength="11.2" lengthAdjust="spacingAndGlyphs">8,4</text>
<text x="477.55" y="461.932" text-anchor="middle" font-size="8.7" fill="#3a3a3a" stroke="#3a3a3a" stroke-width="0.15" textLength="15.7" lengthAdjust="spacingAndGlyphs">1,60</text>
<text x="512.8" y="461.932" text-anchor="middle" font-size="8.7" fill="#3a3a3a" stroke="#3a3a3a" stroke-width="0.15" textLength="24.7" lengthAdjust="spacingAndGlyphs">1,2185</text>
<text x="564.1" y="461.932" text-anchor="middle" font-size="8.7" fill="#323a45" stroke="#323a45" stroke-width="0.3" textLength="13.5" lengthAdjust="spacingAndGlyphs">900</text>
<text x="97.5" y="248.732" text-anchor="middle" font-size="8.7" fill="#323a45" stroke="#323a45" stroke-width="0.35" textLength="13.5" lengthAdjust="spacingAndGlyphs">400</text>
<text x="97.5" y="355.482" text-anchor="middle" font-size="8.7" fill="#323a45" stroke="#323a45" stroke-width="0.35" textLength="13.5" lengthAdjust="spacingAndGlyphs">500</text>
<text x="97.5" y="444.182" text-anchor="middle" font-size="8.7" fill="#323a45" stroke="#323a45" stroke-width="0.35" textLength="13.5" lengthAdjust="spacingAndGlyphs">600</text>
<text x="253.3" y="249.132" text-anchor="middle" font-size="8.7" fill="#3a3a3a" stroke="#3a3a3a" stroke-width="0.15" textLength="13.5" lengthAdjust="spacingAndGlyphs">370</text>
<text x="253.3" y="355.282" text-anchor="middle" font-size="8.7" fill="#3a3a3a" stroke="#3a3a3a" stroke-width="0.15" textLength="13.5" lengthAdjust="spacingAndGlyphs">470</text>
<text x="253.3" y="444.182" text-anchor="middle" font-size="8.7" fill="#3a3a3a" stroke="#3a3a3a" stroke-width="0.15" textLength="13.5" lengthAdjust="spacingAndGlyphs">570</text>
<text x="174.6" y="338.232" text-anchor="middle" font-size="8.7" fill="#3a3a3a" stroke="#3a3a3a" stroke-width="0.15" textLength="25.2" lengthAdjust="spacingAndGlyphs">83-103</text>
<text x="296.6" y="338.232" text-anchor="middle" font-size="8.7" fill="#3a3a3a" stroke="#3a3a3a" stroke-width="0.15" textLength="25.2" lengthAdjust="spacingAndGlyphs">83-103</text>
<text x="213.85" y="332.84" text-anchor="middle" font-size="9" fill="#3a3a3a" stroke="#3a3a3a" stroke-width="0.5" textLength="21.5" lengthAdjust="spacingAndGlyphs">dolne</text>
<text x="213.85" y="342.684" text-anchor="middle" font-size="9.4" fill="#777777" textLength="28.5" lengthAdjust="spacingAndGlyphs">bottom</text>
<text x="17" y="497.996" font-size="8.6" font-weight="bold" fill="#fff" textLength="88.3" lengthAdjust="spacingAndGlyphs">PODŁĄCZENIE BOCZNE</text>
<text x="108.3" y="497.996" font-size="8.6" font-weight="bold" fill="#fff" textLength="132.4" lengthAdjust="spacingAndGlyphs">/ top bottom same end connection</text>
<text x="17" y="533.432" text-anchor="start" font-size="8.7" fill="#3a3a3a" stroke="#3a3a3a" stroke-width="0.15" textLength="44.5" lengthAdjust="spacingAndGlyphs">FRA-40/60B</text>
<text x="135.25" y="533.432" text-anchor="middle" font-size="8.7" fill="#323a45" stroke="#323a45" stroke-width="0.35" textLength="13.5" lengthAdjust="spacingAndGlyphs">570</text>
<text x="333.9" y="533.432" text-anchor="middle" font-size="8.7" fill="#3a3a3a" stroke="#3a3a3a" stroke-width="0.15" textLength="13.5" lengthAdjust="spacingAndGlyphs">138</text>
<text x="361.3" y="533.432" text-anchor="middle" font-size="8.7" fill="#323a45" stroke="#323a45" stroke-width="0.3" textLength="13.5" lengthAdjust="spacingAndGlyphs">259</text>
<text x="388.8" y="533.432" text-anchor="middle" font-size="8.7" fill="#3a3a3a" stroke="#3a3a3a" stroke-width="0.15" textLength="13.5" lengthAdjust="spacingAndGlyphs">324</text>
<text x="416.6" y="533.432" text-anchor="middle" font-size="8.7" fill="#3a3a3a" stroke="#3a3a3a" stroke-width="0.15" textLength="11.2" lengthAdjust="spacingAndGlyphs">4,7</text>
<text x="446.35" y="533.432" text-anchor="middle" font-size="8.7" fill="#3a3a3a" stroke="#3a3a3a" stroke-width="0.15" textLength="11.2" lengthAdjust="spacingAndGlyphs">2,3</text>
<text x="477.55" y="533.432" text-anchor="middle" font-size="8.7" fill="#3a3a3a" stroke="#3a3a3a" stroke-width="0.15" textLength="15.7" lengthAdjust="spacingAndGlyphs">0,42</text>
<text x="512.8" y="533.432" text-anchor="middle" font-size="8.7" fill="#3a3a3a" stroke="#3a3a3a" stroke-width="0.15" textLength="24.7" lengthAdjust="spacingAndGlyphs">1,2269</text>
<text x="564.1" y="533.432" text-anchor="middle" font-size="8.7" fill="#323a45" stroke="#323a45" stroke-width="0.3" textLength="13.5" lengthAdjust="spacingAndGlyphs">300</text>
<text x="17" y="568.632" text-anchor="start" font-size="8.7" fill="#3a3a3a" stroke="#3a3a3a" stroke-width="0.15" textLength="44.5" lengthAdjust="spacingAndGlyphs">FRA-50/60B</text>
<text x="135.25" y="568.632" text-anchor="middle" font-size="8.7" fill="#323a45" stroke="#323a45" stroke-width="0.35" textLength="13.5" lengthAdjust="spacingAndGlyphs">570</text>
<text x="333.9" y="568.632" text-anchor="middle" font-size="8.7" fill="#3a3a3a" stroke="#3a3a3a" stroke-width="0.15" textLength="13.5" lengthAdjust="spacingAndGlyphs">167</text>
<text x="361.3" y="568.632" text-anchor="middle" font-size="8.7" fill="#323a45" stroke="#323a45" stroke-width="0.3" textLength="13.5" lengthAdjust="spacingAndGlyphs">312</text>
<text x="388.8" y="568.632" text-anchor="middle" font-size="8.7" fill="#3a3a3a" stroke="#3a3a3a" stroke-width="0.15" textLength="13.5" lengthAdjust="spacingAndGlyphs">390</text>
<text x="416.6" y="568.632" text-anchor="middle" font-size="8.7" fill="#3a3a3a" stroke="#3a3a3a" stroke-width="0.15" textLength="11.2" lengthAdjust="spacingAndGlyphs">5,5</text>
<text x="446.35" y="568.632" text-anchor="middle" font-size="8.7" fill="#3a3a3a" stroke="#3a3a3a" stroke-width="0.15" textLength="11.2" lengthAdjust="spacingAndGlyphs">2,9</text>
<text x="477.55" y="568.632" text-anchor="middle" font-size="8.7" fill="#3a3a3a" stroke="#3a3a3a" stroke-width="0.15" textLength="15.7" lengthAdjust="spacingAndGlyphs">0,51</text>
<text x="512.8" y="568.632" text-anchor="middle" font-size="8.7" fill="#3a3a3a" stroke="#3a3a3a" stroke-width="0.15" textLength="24.7" lengthAdjust="spacingAndGlyphs">1,2293</text>
<text x="564.1" y="568.632" text-anchor="middle" font-size="8.7" fill="#323a45" stroke="#323a45" stroke-width="0.3" textLength="13.5" lengthAdjust="spacingAndGlyphs">300</text>
<text x="97.5" y="533.432" text-anchor="middle" font-size="8.7" fill="#323a45" stroke="#323a45" stroke-width="0.35" textLength="13.5" lengthAdjust="spacingAndGlyphs">400</text>
<text x="97.5" y="568.632" text-anchor="middle" font-size="8.7" fill="#323a45" stroke="#323a45" stroke-width="0.35" textLength="13.5" lengthAdjust="spacingAndGlyphs">500</text>
<text x="174.6" y="550.932" text-anchor="middle" font-size="8.7" fill="#3a3a3a" stroke="#3a3a3a" stroke-width="0.15" textLength="25.2" lengthAdjust="spacingAndGlyphs">83-103</text>
<text x="253.3" y="550.932" text-anchor="middle" font-size="8.7" fill="#3a3a3a" stroke="#3a3a3a" stroke-width="0.15" textLength="13.5" lengthAdjust="spacingAndGlyphs">500</text>
<text x="296.6" y="550.932" text-anchor="middle" font-size="8.7" fill="#3a3a3a" stroke="#3a3a3a" stroke-width="0.15" textLength="25.2" lengthAdjust="spacingAndGlyphs">83-103</text>
<text x="213.85" y="534.456" text-anchor="middle" font-size="9.6" fill="#3a3a3a" stroke="#3a3a3a" stroke-width="0.5" textLength="29.5" lengthAdjust="spacingAndGlyphs">boczne</text>
<text x="213.85" y="542.912" text-anchor="middle" font-size="9.2" fill="#777777" textLength="12.5" lengthAdjust="spacingAndGlyphs">top</text>
<text x="213.85" y="551.212" text-anchor="middle" font-size="9.2" fill="#777777" textLength="27.5" lengthAdjust="spacingAndGlyphs">bottom</text>
<text x="213.85" y="559.512" text-anchor="middle" font-size="9.2" fill="#777777" textLength="21" lengthAdjust="spacingAndGlyphs">same</text>
<text x="213.85" y="567.812" text-anchor="middle" font-size="9.2" fill="#777777" textLength="14" lengthAdjust="spacingAndGlyphs">end</text>
</g>
</svg>
</body>
</html>
